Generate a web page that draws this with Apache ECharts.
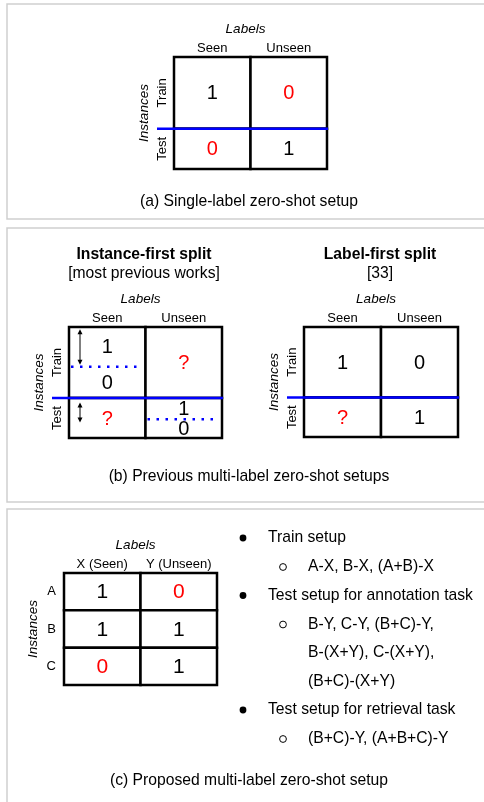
<!DOCTYPE html>
<html><head><meta charset="utf-8">
<script src="https://cdn.jsdelivr.net/npm/echarts@6/dist/echarts.min.js"></script>
<style>html,body{margin:0;padding:0;background:#fff}#main{width:484px;height:802px}</style>
</head><body><div id="main"></div>
<script>
const FONT = '"Liberation Sans", Arial, Helvetica, sans-serif';

// ---------------- data ----------------
const labelCats = ['Seen', 'Unseen'];
const splitRows = ['Train', 'Test'];
const trainShare = 0.64;                       // fraction of instances in the train split

// (a) single-label zero-shot setup  [row][col]
const singleValues = [['1', '0'], ['0', '1']];
const singleRed    = [[false, true], [true, false]];

// (b) instance-first split: each cell = list of [value, share of the row]
const instFirstCells = [
  [[['1', 0.56], ['0', 0.44]], [['?', 1]]],
  [[['?', 1]],                 [['1', 0.53], ['0', 0.47]]]
];
const instFirstArrows = [[0, 0.02, 0.34], [0, 0.68, 0.86]];   // [col, from, to]

// (b) label-first split [row][col]
const labelFirstValues = [['1', '0'], ['?', '1']];

// (c) proposed multi-label zero-shot setup
const propLabels = ['X (Seen)', 'Y (Unseen)'];
const propRows   = ['A', 'B', 'C'];
const propValues = [['1', '0'], ['1', '1'], ['0', '1']];
const propRed    = [[false, true], [false, false], [true, false]];

const trainSetup   = ['A-X, B-X, (A+B)-X'];
const annotSetup   = ['B-Y, C-Y, (B+C)-Y,', 'B-(X+Y), C-(X+Y),', '(B+C)-(X+Y)'];
const retrievSetup = ['(B+C)-Y, (A+B+C)-Y'];

// ---------------- helpers ----------------
const rowEdges = [0, trainShare, 1];
const RED = '#ff0000', BLUE = '#0000ff';
const BODY = 15.7;

function buildCells(segGrid, redFn) {
  const cells = [];
  segGrid.forEach((row, r) => row.forEach((segs, c) => {
    const y0 = rowEdges[r], y1 = rowEdges[r + 1];
    let acc = y0;
    const s = segs.map(([text, share]) => {
      const a = acc, b = acc + share * (y1 - y0); acc = b;
      return { text, y0: a, y1: b, red: redFn(text, r, c) };
    });
    cells.push({ col: c, y0, y1, segs: s });
  }));
  return cells;
}
const asSegs = vals => vals.map(row => row.map(v => [[v, 1]]));

const cellsA  = buildCells(asSegs(singleValues), (t, r, c) => singleRed[r][c]);
const cellsBL = buildCells(instFirstCells, t => t === '?');
const cellsBR = buildCells(asSegs(labelFirstValues), t => t === '?');

function cellSeries(gridIdx, cells, fontSize) {
  return {
    type: 'custom', xAxisIndex: gridIdx, yAxisIndex: gridIdx, z: 2,
    data: cells.map(c => [c.col, c.y0, c.y1]),
    renderItem(params, api) {
      const cell = cells[params.dataIndex];
      const w = api.size([1, 0])[0];
      const p0 = api.coord([cell.col, cell.y0]);
      const p1 = api.coord([cell.col, cell.y1]);
      const x = p0[0] - w / 2;
      const children = [{
        type: 'rect',
        shape: { x, y: Math.min(p0[1], p1[1]), width: w, height: Math.abs(p1[1] - p0[1]) },
        style: { fill: '#fff', stroke: '#000', lineWidth: 2.5 }
      }];
      cell.segs.forEach((s, i) => {
        const yc = api.coord([cell.col, (s.y0 + s.y1) / 2])[1];
        children.push({
          type: 'text', x: p0[0], y: yc + 1,
          style: { text: s.text, fill: s.red ? RED : '#000', fontSize, fontFamily: FONT, align: 'center', verticalAlign: 'middle' }
        });
        if (i < cell.segs.length - 1) {
          const yb = api.coord([cell.col, s.y1])[1];
          children.push({
            type: 'line', shape: { x1: x + 2, y1: yb, x2: x + w - 3, y2: yb },
            style: { stroke: BLUE, lineWidth: 2.5, lineDash: [2.5, 6.5] }, z2: 5
          });
        }
      });
      return { type: 'group', children };
    }
  };
}

function splitSeries(gridIdx) {
  return {
    type: 'custom', xAxisIndex: gridIdx, yAxisIndex: gridIdx, z: 4,
    data: [[0, trainShare]],
    renderItem(params, api) {
      const cs = params.coordSys;
      const y = api.coord([0, api.value(1)])[1];
      return { type: 'line', shape: { x1: cs.x - 17, y1: y, x2: cs.x + cs.width + 1, y2: y },
               style: { stroke: BLUE, lineWidth: 2.5 } };
    }
  };
}

function arrowSeries(gridIdx, arrows) {
  return {
    type: 'custom', xAxisIndex: gridIdx, yAxisIndex: gridIdx, z: 5,
    data: arrows,
    renderItem(params, api) {
      const w = api.size([1, 0])[0];
      const a = api.coord([api.value(0), api.value(1)]);
      const b = api.coord([api.value(0), api.value(2)]);
      const x = a[0] - w / 2 + 11;
      const st = { fill: '#000' };
      return { type: 'group', children: [
        { type: 'line', shape: { x1: x, y1: a[1] + 2, x2: x, y2: b[1] - 2 }, style: { stroke: '#000', lineWidth: 1 } },
        { type: 'polygon', shape: { points: [[x, a[1]], [x - 2.5, a[1] + 5], [x + 2.5, a[1] + 5]] }, style: st },
        { type: 'polygon', shape: { points: [[x, b[1]], [x - 2.5, b[1] - 5], [x + 2.5, b[1] - 5]] }, style: st }
      ] };
    }
  };
}

const propCells = [];
propValues.forEach((row, r) => row.forEach((v, c) => propCells.push({ col: c, row: r, text: v, red: propRed[r][c] })));
const propSeries = {
  type: 'custom', xAxisIndex: 3, yAxisIndex: 3, z: 2,
  data: propCells.map(c => [c.col, c.row]),
  renderItem(params, api) {
    const cell = propCells[params.dataIndex];
    const sz = api.size([1, 1]);
    const p = api.coord([cell.col, cell.row]);
    return { type: 'group', children: [
      { type: 'rect', shape: { x: p[0] - sz[0] / 2, y: p[1] - sz[1] / 2, width: sz[0], height: sz[1] },
        style: { fill: '#fff', stroke: '#000', lineWidth: 2.5 } },
      { type: 'text', x: p[0], y: p[1] + 1,
        style: { text: cell.text, fill: cell.red ? RED : '#000', fontSize: 21, fontFamily: FONT, align: 'center', verticalAlign: 'middle' } }
    ] };
  }
};

const txt = (extra) => Object.assign({ color: '#000', fontSize: 13, fontFamily: FONT }, extra || {});
function xAx(gridIndex, data) {
  return { type: 'category', gridIndex, data, position: 'top',
    axisLine: { show: false }, axisTick: { show: false }, splitLine: { show: false },
    axisLabel: txt({ margin: 2, interval: 0 }),
    name: 'Labels', nameLocation: 'middle', nameGap: 21,
    nameTextStyle: txt({ fontStyle: 'italic', fontSize: 13.5, padding: [0, 10, 0, 0] }) };
}
function yAxVal(gridIndex) {
  return { type: 'value', gridIndex, min: 0, max: 1, inverse: true,
    axisLine: { show: false }, axisTick: { show: false }, splitLine: { show: false },
    axisLabel: txt({ customValues: [trainShare / 2, (1 + trainShare) / 2],
      formatter: v => (v < trainShare ? splitRows[0] : splitRows[1]), rotate: 90, margin: 5 }),
    name: 'Instances', nameLocation: 'middle', nameGap: 23, nameRotate: 90,
    nameTextStyle: txt({ fontStyle: 'italic', fontSize: 13.5 }) };
}

// ---------------- graphic (panels, captions, notes) ----------------
const graphics = [];
[[4, 215], [228, 274], [509, 320]].forEach(([y, h]) => graphics.push({
  type: 'rect', shape: { x: 7, y, width: 500, height: h }, style: { fill: 'none', stroke: '#cfcfcf', lineWidth: 1.5 }, z: -1 }));
function gtext(text, x, y, opts) {
  graphics.push({ type: 'text', x, y, style: Object.assign({ text, fill: '#000', fontSize: BODY, fontFamily: FONT,
    align: 'center', verticalAlign: 'middle' }, opts || {}) });
}
gtext('(a) Single-label zero-shot setup', 249, 202);
gtext('(b) Previous multi-label zero-shot setups', 249, 477);
gtext('(c) Proposed multi-label zero-shot setup', 249, 781);
gtext('Instance-first split', 144, 255, { fontWeight: 'bold' });
gtext('[most previous works]', 144, 274);
gtext('Label-first split', 380, 255, { fontWeight: 'bold' });
gtext('[33]', 380, 274);

function bullet(y, filled) {
  graphics.push({ type: 'circle', shape: { cx: filled ? 243 : 283, cy: y, r: 3.4 },
    style: filled ? { fill: '#000' } : { fill: 'none', stroke: '#000', lineWidth: 1 } });
}
const notes = [
  ['Train setup', trainSetup],
  ['Test setup for annotation task', annotSetup],
  ['Test setup for retrieval task', retrievSetup]
];
let ny = 538;
notes.forEach(([head, subs]) => {
  bullet(ny, true);
  gtext(head, 268, ny, { align: 'left' });
  ny += 29;
  subs.forEach((s, i) => {
    if (i === 0) bullet(ny, false);
    gtext(s, 308, ny, { align: 'left' });
    ny += 28.5;
  });
});

// ---------------- chart ----------------
const chart = echarts.init(document.getElementById('main'), null, { renderer: 'canvas' });
chart.setOption({
  animation: false,
  backgroundColor: '#fff',
  grid: [
    { left: 174, top: 57, width: 153, height: 112 },
    { left: 69, top: 327, width: 153, height: 111 },
    { left: 304, top: 327, width: 154, height: 110 },
    { left: 64, top: 573, width: 153, height: 112 }
  ],
  xAxis: [xAx(0, labelCats), xAx(1, labelCats), xAx(2, labelCats), xAx(3, propLabels)],
  yAxis: [yAxVal(0), yAxVal(1), yAxVal(2), {
    type: 'category', gridIndex: 3, data: propRows, inverse: true,
    axisLine: { show: false }, axisTick: { show: false }, splitLine: { show: false },
    axisLabel: txt({ margin: 8, interval: 0 }),
    name: 'Instances', nameLocation: 'middle', nameGap: 24, nameRotate: 90,
    nameTextStyle: txt({ fontStyle: 'italic', fontSize: 13.5 })
  }],
  series: [
    cellSeries(0, cellsA, 20), splitSeries(0),
    cellSeries(1, cellsBL, 20), splitSeries(1), arrowSeries(1, instFirstArrows),
    cellSeries(2, cellsBR, 20), splitSeries(2),
    propSeries
  ],
  graphic: graphics
});
</script></body></html>
